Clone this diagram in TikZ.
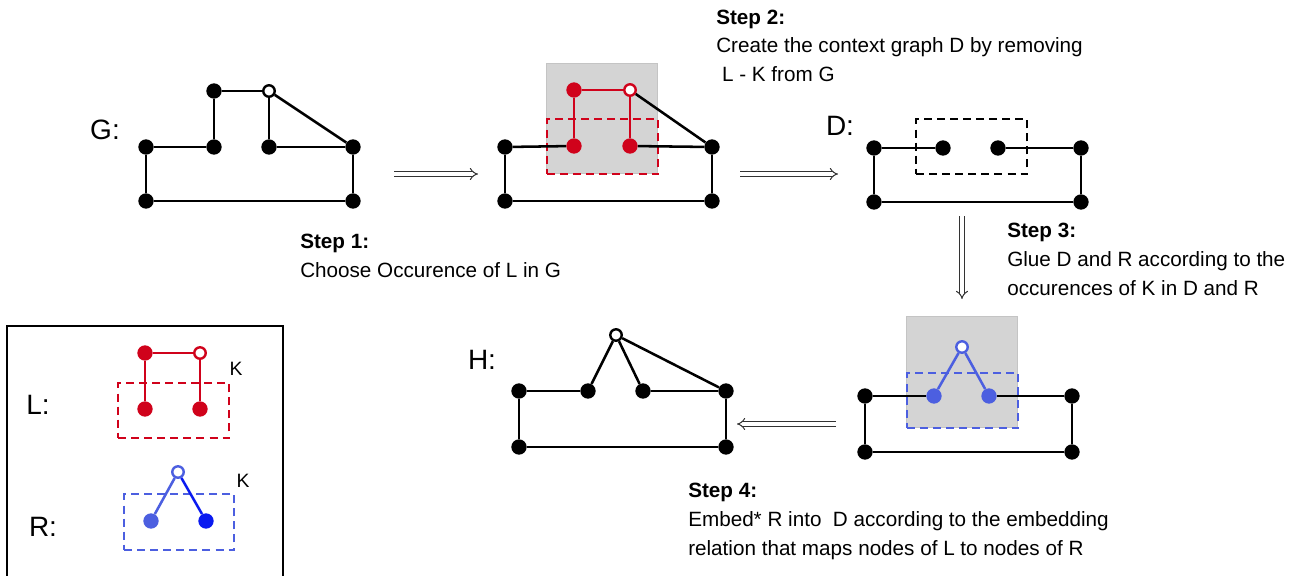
\documentclass[tikz,border=0pt]{standalone}
\usepackage{fontspec}
\setmainfont{Liberation Sans}
\usetikzlibrary{arrows.meta}
\definecolor{myred}{HTML}{D0021B}
\definecolor{myblue}{HTML}{4C5FE0}
\definecolor{darkblue}{HTML}{0A1AF0}
\definecolor{shade}{HTML}{D4D4D4}
\definecolor{shadeline}{HTML}{C4C4C4}
\definecolor{arrowgray}{HTML}{333333}
\begin{document}
\begin{tikzpicture}[x=0.75pt,y=-0.75pt,
  vtx/.style={circle,fill=#1,inner sep=0pt,minimum size=11.5pt},
  vtx/.default=black,
  ovtx/.style={circle,draw=#1,fill=white,line width=1.8pt,inner sep=0pt,minimum size=8.6pt},
  ovtx/.default=black,
  edge/.style={line width=1.9pt,draw=#1},
  edge/.default=black,
  dbox/.style={draw=#1,line width=1.6pt,dash pattern=on 6pt off 3.8pt},
  shadebox/.style={fill=shade,draw=shadeline,line width=0.5pt},
  dbl/.style={draw=arrowgray,double=white,double distance=2.4pt,line width=0.75pt,-{Implies[length=5.5pt]}},
  txt/.style={font=\fontsize{15.5pt}{21.5pt}\selectfont,align=left,inner sep=0pt,anchor=north west},
  glabel/.style={font=\fontsize{21pt}{24pt}\selectfont,inner sep=0pt},
  klabel/.style={font=\fontsize{14.5pt}{17pt}\selectfont,inner sep=0pt}]
\useasboundingbox (0,0) rectangle (1295,575);

% ---------- Graph G ----------
\node[glabel] (Glab) at (105,130) {G:};
\node[vtx] (g1) at (214,91) {};
\node[ovtx] (g2) at (269,91) {};
\node[vtx] (g3) at (146,147) {};
\node[vtx] (g4) at (214,147) {};
\node[vtx] (g5) at (269,147) {};
\node[vtx] (g6) at (353,147) {};
\node[vtx] (g7) at (146,201) {};
\node[vtx] (g8) at (353,201) {};
\draw[edge] (g1) -- (g2);
\draw[edge] (g1) -- (g4);
\draw[edge] (g2) -- (g5);
\draw[edge] (g2) -- (g6);
\draw[edge] (g3) -- (g4);
\draw[edge] (g5) -- (g6);
\draw[line width=1.1pt] (g3) -- (g7);
\draw[edge] (g6) -- (g8);
\draw[edge] (g7) -- (g8);

% ---------- Graph with occurrence of L ----------
\node[shadebox,minimum width=83.25pt,minimum height=82.5pt,inner sep=0pt,anchor=north west] (sh1) at (546,63) {};
\node[dbox=myred,minimum width=83.25pt,minimum height=41.25pt,inner sep=0pt,anchor=north west] (k1) at (546,118) {};
\node[vtx] (b1) at (505,147) {};
\node[vtx] (b2) at (712,147) {};
\node[vtx] (b3) at (505,201) {};
\node[vtx] (b4) at (712,201) {};
\node[vtx=myred] (r1) at (574,90) {};
\node[ovtx=myred] (r2) at (630,90) {};
\node[vtx=myred] (r3) at (574,146) {};
\node[vtx=myred] (r4) at (630,146) {};
\draw[edge] (b1) -- (r3);
\draw[edge] (r4) -- (b2);
\draw[edge] (r2) -- (b2);
\draw[edge] (b1) -- (b3);
\draw[edge] (b2) -- (b4);
\draw[edge] (b3) -- (b4);
\draw[edge=myred] (r1) -- (r2);
\draw[edge=myred] (r1) -- (r3);
\draw[edge=myred] (r2) -- (r4);

% ---------- Graph D ----------
\node[glabel] (Dlab) at (840,126) {D:};
\node[dbox=black,minimum width=83.25pt,minimum height=41.25pt,inner sep=0pt,anchor=north west] (k2) at (915,118) {};
\node[vtx] (d1) at (874,148) {};
\node[vtx] (d2) at (943,148) {};
\node[vtx] (d3) at (998,148) {};
\node[vtx] (d4) at (1081,148) {};
\node[vtx] (d5) at (874,202) {};
\node[vtx] (d6) at (1081,202) {};
\draw[edge] (d1) -- (d2);
\draw[edge] (d3) -- (d4);
\draw[edge] (d1) -- (d5);
\draw[edge] (d4) -- (d6);
\draw[edge] (d5) -- (d6);

% ---------- Graph with R glued ----------
\node[shadebox,minimum width=83.25pt,minimum height=83.25pt,inner sep=0pt,anchor=north west] (sh2) at (906,316) {};
\node[dbox=myblue,minimum width=83.25pt,minimum height=41.25pt,inner sep=0pt,anchor=north west] (k3) at (906,372) {};
\node[vtx] (e1) at (865,396) {};
\node[vtx] (e2) at (1072,396) {};
\node[vtx] (e3) at (865,452) {};
\node[vtx] (e4) at (1072,452) {};
\node[ovtx=myblue] (bo) at (962,347) {};
\node[vtx=myblue] (bl) at (934,396) {};
\node[vtx=myblue] (br) at (989,396) {};
\draw[edge] (e1) -- (bl);
\draw[edge] (br) -- (e2);
\draw[edge] (e1) -- (e3);
\draw[edge] (e2) -- (e4);
\draw[edge] (e3) -- (e4);
\draw[edge=myblue] (bo) -- (bl);
\draw[edge=myblue] (bo) -- (br);

% ---------- Graph H ----------
\node[glabel] (Hlab) at (482,360) {H:};
\node[ovtx] (h1) at (616,335) {};
\node[vtx] (h2) at (519,391) {};
\node[vtx] (h3) at (588,391) {};
\node[vtx] (h4) at (643,391) {};
\node[vtx] (h5) at (726,391) {};
\node[vtx] (h6) at (519,447) {};
\node[vtx] (h7) at (726,447) {};
\draw[edge] (h2) -- (h3);
\draw[edge] (h3) -- (h1);
\draw[edge] (h1) -- (h4);
\draw[edge] (h1) -- (h5);
\draw[edge] (h4) -- (h5);
\draw[edge] (h2) -- (h6);
\draw[edge] (h5) -- (h7);
\draw[edge] (h6) -- (h7);

% ---------- Arrows ----------
\coordinate (a1s) at (394,174); \coordinate (a1e) at (478,174);
\coordinate (a2s) at (740,174); \coordinate (a2e) at (838,174);
\coordinate (a3s) at (962,216); \coordinate (a3e) at (962,299);
\coordinate (a4s) at (836,424); \coordinate (a4e) at (737,424);
\draw[dbl] (a1s) -- (a1e);
\draw[dbl] (a2s) -- (a2e);
\draw[dbl] (a3s) -- (a3e);
\draw[dbl] (a4s) -- (a4e);

% ---------- Texts ----------
\node[txt] (t1) at (300,234) {\textbf{Step 1:}\\Choose Occurence of L in G};
\node[txt] (t2) at (716,9.5) {\textbf{Step 2:}\\Create the context graph D by removing\\\hspace{0.28em}L - K from G};
\node[txt] (t3) at (1007,223) {\textbf{Step 3:}\\Glue D and R according to the\\occurences of K in D and R};
\node[txt] (t4) at (688,483) {\textbf{Step 4:}\\Embed* R into\ \ D according to the embedding\\relation that maps nodes of L to nodes of R};

% ---------- Legend ----------
\coordinate (lb1) at (7,580); \coordinate (lb2) at (7,326);
\coordinate (lb3) at (283,326); \coordinate (lb4) at (283,580);
\draw[line width=0.8pt] (lb1) -- (lb2) -- (lb3) -- (lb4);
\node[glabel] (Llab) at (38,405) {L:};
\node[glabel] (Rlab) at (43,527) {R:};
\node[dbox=myred,minimum width=83.25pt,minimum height=41.25pt,inner sep=0pt,anchor=north west] (k4) at (117,382) {};
\node[vtx=myred] (lr1) at (145,353) {};
\node[ovtx=myred] (lr2) at (200,353) {};
\node[vtx=myred] (lr3) at (145,409) {};
\node[vtx=myred] (lr4) at (200,409) {};
\draw[edge=myred] (lr1) -- (lr2);
\draw[edge=myred] (lr1) -- (lr3);
\draw[edge=myred] (lr2) -- (lr4);
\node[klabel] (K1) at (236,369) {K};
\node[dbox=myblue,minimum width=82.5pt,minimum height=42pt,inner sep=0pt,anchor=north west] (k5) at (123,493) {};
\node[ovtx=myblue] (rb0) at (178,472) {};
\node[vtx=myblue] (rb1) at (151,521) {};
\node[vtx=darkblue] (rb2) at (206,521) {};
\draw[edge=myblue] (rb0) -- (rb1);
\draw[edge=darkblue] (rb0) -- (rb2);
\node[klabel] (K2) at (243,481) {K};
\end{tikzpicture}
\end{document}
